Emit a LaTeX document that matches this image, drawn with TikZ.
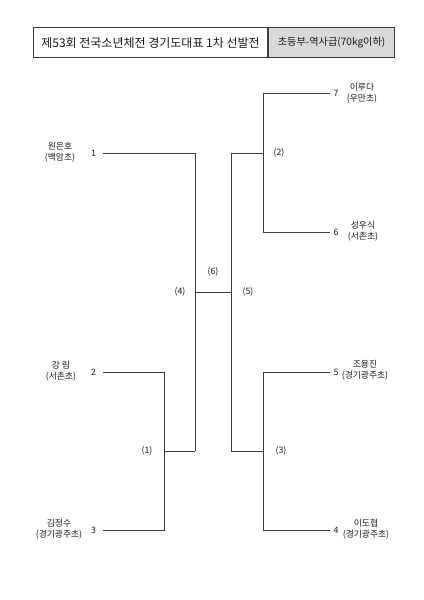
\documentclass[tikz,border=0pt]{standalone}
\usepackage{fontspec}
\setmainfont{Noto Sans CJK KR}
\usetikzlibrary{positioning, calc}
\definecolor{kbtext}{HTML}{1A1A1A}
\definecolor{kbline}{HTML}{3C3C3C}
\definecolor{kbgray}{HTML}{D9D9D9}
\tikzset{
  titlemain/.style={rectangle, draw=kbline, fill=white, text=kbtext,
              font=\fontsize{9}{11}\selectfont, inner sep=0pt, line width=0.8pt},
  titlecat/.style={rectangle, draw=kbline, fill=kbgray, text=kbtext,
              font=\fontsize{7.6}{9}\selectfont, inner sep=0pt, line width=0.8pt},
  player/.style={font=\fontsize{6.6}{8.6}\selectfont, align=center, text=kbtext, inner sep=0pt},
  seedl/.style={font=\fontsize{6.6}{8}\selectfont, text=kbtext, anchor=east, inner ysep=1pt, inner xsep=5pt},
  seedr/.style={font=\fontsize{6.6}{8}\selectfont, text=kbtext, anchor=west, inner ysep=1pt, inner xsep=2.5pt},
  bout/.style={font=\fontsize{6.6}{8}\selectfont, text=kbtext, inner sep=1pt},
  wire/.style={draw=kbline, line width=0.75pt},
}
\begin{document}
\begin{tikzpicture}[x=0.75pt, y=-0.75pt]
  \useasboundingbox (0,0) rectangle (424,600);
  % title bar
  \node[titlemain, minimum width=175.5pt, minimum height=22.5pt, anchor=north west] (title) at (33,27)
    {제53회 전국소년체전 경기도대표 1차 선발전};
  \node[titlecat, right=0pt of title, minimum width=94.5pt, minimum height=22.5pt] (weight)
    {초등부-역사급(70kg이하)};
  % seeds, left half
  \node[seedl] (n1) at (103,153) {1};
  \node[seedl] (n2) at (103,372) {2};
  \node[seedl] (n3) at (103,530) {3};
  \node[player] (p1) at (60,152) {원은호\\(백암초)};
  \node[player] (p2) at (61,371) {강 림\\(서촌초)};
  \node[player] (p3) at (59,529) {김정수\\(경기광주초)};
  % seeds, right half
  \node[seedr] (n7) at (330,93) {7};
  \node[seedr] (n6) at (330,232) {6};
  \node[seedr] (n5) at (330,372) {5};
  \node[seedr] (n4) at (330,530) {4};
  \node[player] (p7) at (362,93) {이루다\\(우만초)};
  \node[player] (p6) at (363,231) {성우식\\(서촌초)};
  \node[player] (p5) at (365,370) {조용진\\(경기광주초)};
  \node[player] (p4) at (366,529) {이도협\\(경기광주초)};
  % bracket corners
  \coordinate (a2) at (164,372);
  \coordinate (a3) at (164,530);
  \coordinate (a1) at (164,451);
  \coordinate (c0) at (195,153);
  \coordinate (c1) at (195,451);
  \coordinate (cf) at (195,292);
  \coordinate (df) at (231,292);
  \coordinate (d2) at (231,153);
  \coordinate (d3) at (231,451);
  \coordinate (e2) at (263,153);
  \coordinate (e3) at (263,451);
  \coordinate (e7) at (263,93);
  \coordinate (e6) at (263,232);
  \coordinate (e5) at (263,372);
  \coordinate (e4) at (263,530);
  % lines
  \draw[wire] (n2.east) -- (a2) -- (a3) -- (n3.east);
  \draw[wire] (a1) -- (c1);
  \draw[wire] (n1.east) -- (c0) -- (c1);
  \draw[wire] (cf) -- (df);
  \draw[wire] (d2) -- (d3);
  \draw[wire] (d2) -- (e2);
  \draw[wire] (d3) -- (e3);
  \draw[wire] (n7.west) -- (e7) -- (e6) -- (n6.west);
  \draw[wire] (n5.west) -- (e5) -- (e4) -- (n4.west);
  % bout numbers
  \node[bout] (b1) at (147,451) {(1)};
  \node[bout] (b2) at (279,153) {(2)};
  \node[bout] (b3) at (281,451) {(3)};
  \node[bout] (b4) at (180,292) {(4)};
  \node[bout] (b5) at (248,292) {(5)};
  \node[bout] (b6) at (213,272) {(6)};
\end{tikzpicture}
\end{document}
